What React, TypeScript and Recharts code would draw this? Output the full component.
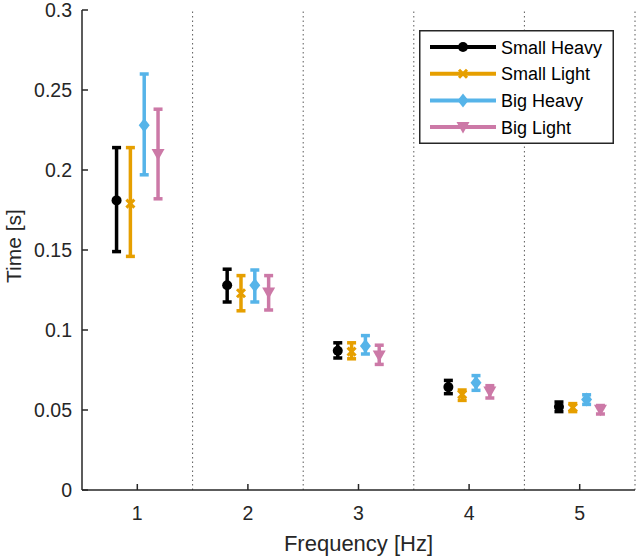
import React from 'react';
import { ScatterChart, Scatter, XAxis, YAxis, ErrorBar, ReferenceLine, Legend, Label } from 'recharts';

// categories
const frequencies = [1, 2, 3, 4, 5];
const yTicks = [0, 0.05, 0.1, 0.15, 0.2, 0.25, 0.3];
const dividers = [1.5, 2.5, 3.5, 4.5, 5.5];

// series (mean, lower end, upper end of the error bar)
const smallHeavyMean = [0.181, 0.128, 0.087, 0.0643, 0.052];
const smallHeavyLow = [0.149, 0.1175, 0.0825, 0.0602, 0.049];
const smallHeavyHigh = [0.214, 0.138, 0.092, 0.0685, 0.055];

const smallLightMean = [0.179, 0.123, 0.0865, 0.0598, 0.0515];
const smallLightLow = [0.146, 0.112, 0.082, 0.056, 0.049];
const smallLightHigh = [0.214, 0.134, 0.092, 0.0625, 0.054];

const bigHeavyMean = [0.228, 0.128, 0.09, 0.067, 0.0565];
const bigHeavyLow = [0.197, 0.1175, 0.085, 0.0623, 0.0535];
const bigHeavyHigh = [0.26, 0.1375, 0.0965, 0.0715, 0.0595];

const bigLightMean = [0.21, 0.1235, 0.084, 0.0615, 0.0502];
const bigLightLow = [0.182, 0.1125, 0.0785, 0.0575, 0.0475];
const bigLightHigh = [0.238, 0.134, 0.0905, 0.0652, 0.0528];

const seriesNames = ['Small Heavy', 'Small Light', 'Big Heavy', 'Big Light'];
const seriesColors = ['#000000', '#E69F00', '#56B4E9', '#CC79A7'];
const seriesMarkers = ['circle', 'cross', 'diamond', 'triangleDown'];
const seriesOffsets = [-0.1875, -0.0625, 0.0625, 0.1875];

const seriesValues = [
  [smallHeavyMean, smallHeavyLow, smallHeavyHigh],
  [smallLightMean, smallLightLow, smallLightHigh],
  [bigHeavyMean, bigHeavyLow, bigHeavyHigh],
  [bigLightMean, bigLightLow, bigLightHigh],
];

const FONT = '"Liberation Sans", Arial, Helvetica, sans-serif';
const INK = '#262626';

const Marker = ({ cx, cy, kind, color }: any) => {
  if (cx == null || cy == null) return null;
  switch (kind) {
    case 'circle':
      return <circle cx={cx} cy={cy} r={5} fill={color} />;
    case 'cross':
      return (
        <path
          d={`M${cx - 4},${cy - 4}L${cx + 4},${cy + 4}M${cx - 4},${cy + 4}L${cx + 4},${cy - 4}`}
          stroke={color}
          strokeWidth={3}
          fill="none"
        />
      );
    case 'diamond':
      return <path d={`M${cx},${cy - 7}L${cx + 5.5},${cy}L${cx},${cy + 7}L${cx - 5.5},${cy}Z`} fill={color} />;
    default:
      return <path d={`M${cx - 6.5},${cy - 5}L${cx + 6.5},${cy - 5}L${cx},${cy + 6.5}Z`} fill={color} />;
  }
};

const XTick = ({ x, y, payload }: any) => (
  <g>
    <line x1={x} x2={x} y1={y} y2={y - 6} stroke={INK} strokeWidth={1.5} />
    <text x={x} y={y + 30} textAnchor="middle" fontSize={19.5} fontFamily={FONT} fill={INK}>
      {payload.value}
    </text>
  </g>
);

const YTick = ({ x, y, payload }: any) => (
  <g>
    <line x1={x} x2={x + 6} y1={y} y2={y} stroke={INK} strokeWidth={1.5} />
    <text x={x - 10} y={y + 7} textAnchor="end" fontSize={19.5} fontFamily={FONT} fill={INK}>
      {payload.value}
    </text>
  </g>
);

const LegendBox = () => (
  <svg width={195} height={114}>
    <rect x={0.75} y={0.75} width={193.5} height={112.5} fill="#fff" stroke={INK} strokeWidth={1.5} />
    {seriesNames.map((name, i) => {
      const cy = 17 + i * 26.7;
      return (
        <g key={name}>
          <line x1={11} x2={77} y1={cy} y2={cy} stroke={seriesColors[i]} strokeWidth={4} />
          <Marker cx={44} cy={cy} kind={seriesMarkers[i]} color={seriesColors[i]} />
          <text x={82} y={cy + 6.5} fontSize={18} fontFamily={FONT} fill="#000">
            {name}
          </text>
        </g>
      );
    })}
  </svg>
);

export default function App() {
  const series = seriesNames.map((name, i) => {
    const [mean, low, high] = seriesValues[i];
    return {
      name,
      data: frequencies.map((f, j) => ({
        x: f + seriesOffsets[i],
        y: mean[j],
        err: [mean[j] - low[j], high[j] - mean[j]],
      })),
    };
  });

  return (
    <div style={{ position: 'absolute', left: 0, top: 0, background: '#fff' }}>
      <ScatterChart width={638} height={560} margin={{ top: 10, right: 3, left: 0, bottom: 0 }}>
        {dividers.map((d) => (
          <ReferenceLine key={d} x={d} stroke="#5a5a5a" strokeDasharray="1.5 3" strokeWidth={1} />
        ))}
        <XAxis
          type="number"
          dataKey="x"
          domain={[0.5, 5.5]}
          ticks={frequencies}
          height={70}
          tickLine={false}
          tickSize={0}
          tickMargin={0}
          tick={<XTick />}
          axisLine={{ stroke: INK, strokeWidth: 1.5 }}
          allowDataOverflow
        >
          <Label
            content={({ viewBox }: any) => (
              <text
                x={viewBox.x + viewBox.width / 2}
                y={viewBox.y + 61}
                textAnchor="middle"
                fontSize={22}
                fontFamily={FONT}
                fill={INK}
              >
                Frequency [Hz]
              </text>
            )}
          />
        </XAxis>
        <YAxis
          type="number"
          dataKey="y"
          domain={[0, 0.3]}
          ticks={yTicks}
          width={82}
          tickLine={false}
          tickSize={0}
          tickMargin={0}
          tick={<YTick />}
          axisLine={{ stroke: INK, strokeWidth: 1.5 }}
          allowDataOverflow
        >
          <Label
            content={({ viewBox }: any) => {
              const cx = viewBox.x + 13;
              const cy = viewBox.y + viewBox.height / 2 - 4;
              return (
                <text
                  x={cx}
                  y={cy}
                  transform={`rotate(-90 ${cx} ${cy})`}
                  textAnchor="middle"
                  dominantBaseline="central"
                  fontSize={21}
                  fontFamily={FONT}
                  fill={INK}
                >
                  Time [s]
                </text>
              );
            }}
          />
        </YAxis>
        {series.map((s, i) => (
          <Scatter
            key={s.name}
            name={s.name}
            data={s.data}
            fill={seriesColors[i]}
            isAnimationActive={false}
            shape={(props: any) => <Marker {...props} kind={seriesMarkers[i]} color={seriesColors[i]} />}
          >
            <ErrorBar dataKey="err" direction="y" width={4.5} strokeWidth={3.5} stroke={seriesColors[i]} />
          </Scatter>
        ))}
        <Legend
          layout="vertical"
          align="center"
          verticalAlign="middle"
          wrapperStyle={{ top: 30, left: 419, width: 195, height: 114 }}
          content={() => <LegendBox />}
        />
      </ScatterChart>
    </div>
  );
}
